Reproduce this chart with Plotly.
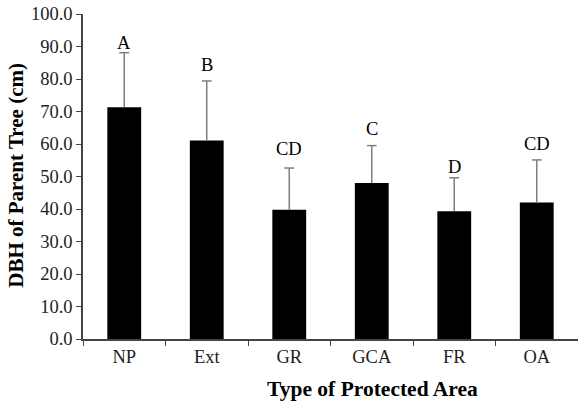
import plotly.graph_objects as go

categories = ["NP", "Ext", "GR", "GCA", "FR", "OA"]
means = [71.3, 61.1, 39.8, 48.0, 39.3, 42.0]
errors_up = [16.8, 18.3, 12.8, 11.5, 10.3, 13.1]
letters = ["A", "B", "CD", "C", "D", "CD"]
letter_y = [91.2, 84.3, 58.5, 64.7, 52.9, 60.1]
y_ticks = [0, 10, 20, 30, 40, 50, 60, 70, 80, 90, 100]

FONT = "Liberation Serif, Times New Roman, serif"
ERR_COLOR = "#7f7f7f"

W, H = 578, 406
L, T, R, B = 83, 14, 0, 66.5
PW, PH = W - L - R, H - T - B

fig = go.Figure()
fig.add_trace(go.Bar(
    x=categories, y=means, width=0.41,
    marker=dict(color="black", line=dict(color="black", width=0)),
    error_y=dict(type="data", symmetric=False, array=errors_up,
                 arrayminus=[0] * len(means), color=ERR_COLOR,
                 thickness=1.5, width=0),
    showlegend=False, hoverinfo="skip",
))
# caps only at the upper end of each error bar
fig.add_trace(go.Scatter(
    x=categories, y=[m + e for m, e in zip(means, errors_up)],
    mode="markers",
    marker=dict(symbol="line-ew", size=7, line=dict(color=ERR_COLOR, width=1.5)),
    showlegend=False, hoverinfo="skip",
))

for c, t, yv in zip(categories, letters, letter_y):
    fig.add_annotation(x=c, y=yv, text=t, showarrow=False,
                       font=dict(family=FONT, size=18.5, color="black"),
                       xanchor="center", yanchor="middle")

fig.add_annotation(xref="paper", yref="paper", x=(372.5 - L) / PW, y=-(390 - (H - B)) / PH,
                   text="<b>Type of Protected Area</b>", showarrow=False,
                   font=dict(family=FONT, size=21.5, color="black"),
                   xanchor="center", yanchor="middle")
fig.add_annotation(xref="paper", yref="paper", x=-(L - 16) / PW, y=((H - B) - 176) / PH,
                   text="<b>DBH of Parent Tree (cm)</b>", showarrow=False, textangle=-90,
                   font=dict(family=FONT, size=21, color="black"),
                   xanchor="center", yanchor="middle")

fig.update_layout(
    width=W, height=H,
    margin=dict(l=L, r=R, t=T, b=B, autoexpand=False),
    paper_bgcolor="white", plot_bgcolor="white",
    font=dict(family=FONT, size=18.5, color="#222"),
    xaxis=dict(type="category", range=[-0.5, 5.5], tickson="boundaries",
               automargin=False,
               ticks="outside", ticklen=5, tickcolor="#444", tickwidth=1.2,
               showline=True, linecolor="#444", linewidth=1.5,
               showgrid=False, zeroline=False,
               tickfont=dict(family=FONT, size=18.5, color="#222")),
    yaxis=dict(range=[0, 100], tickvals=y_ticks, automargin=False,
               ticktext=[f"{v:.1f}" for v in y_ticks],
               ticks="outside", ticklen=5, tickcolor="#444", tickwidth=1.2,
               showline=True, linecolor="#444", linewidth=1.5,
               showgrid=False, zeroline=False,
               tickfont=dict(family=FONT, size=18.5, color="#222")),
)

fig.write_html("out.html", config={"displayModeBar": False},
               post_script="document.body.style.margin='0';")
